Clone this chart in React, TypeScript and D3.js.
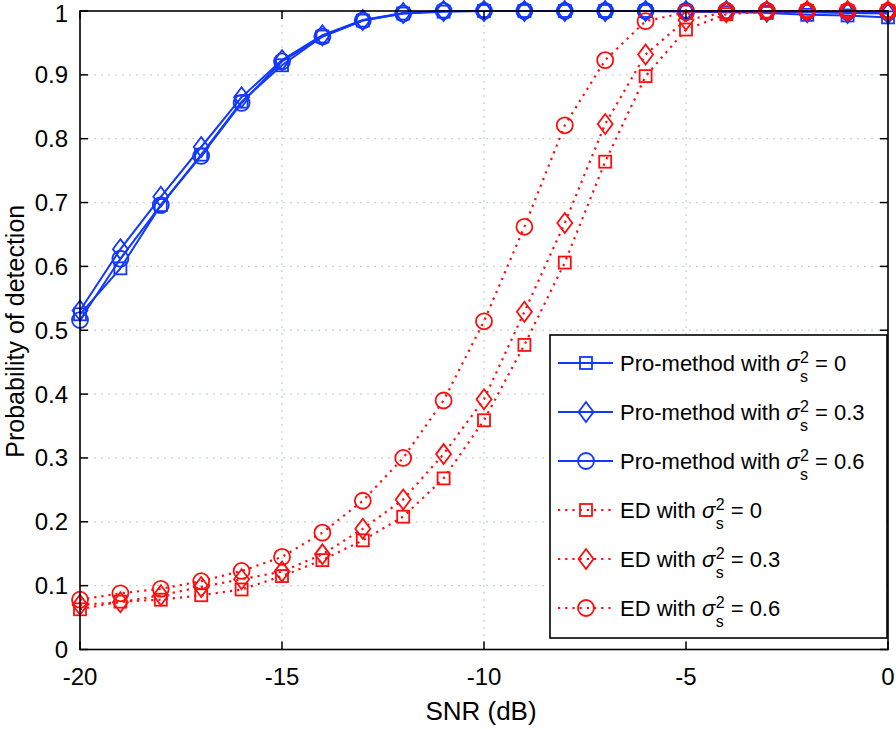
import React from "react";
import * as d3 from "d3";

const snr = [-20, -19, -18, -17, -16, -15, -14, -13, -12, -11, -10, -9, -8, -7, -6, -5, -4, -3, -2, -1, 0];

const proSq = [0.525, 0.597, 0.696, 0.775, 0.858, 0.915, 0.960, 0.985, 0.996, 0.999, 1.0, 1.0, 1.0, 1.0, 1.0, 0.999, 0.998, 0.997, 0.994, 0.993, 0.990];
const proDi = [0.531, 0.627, 0.709, 0.787, 0.865, 0.923, 0.962, 0.986, 0.997, 1.0, 1.0, 1.0, 1.0, 1.0, 1.0, 1.0, 1.0, 0.999, 0.998, 0.997, 0.996];
const proCi = [0.516, 0.612, 0.696, 0.773, 0.856, 0.921, 0.960, 0.985, 0.996, 1.0, 1.0, 1.0, 1.0, 1.0, 1.0, 1.0, 1.0, 1.0, 0.999, 0.999, 0.998];

const edSq = [0.063, 0.075, 0.078, 0.085, 0.094, 0.115, 0.140, 0.171, 0.208, 0.268, 0.359, 0.477, 0.606, 0.764, 0.898, 0.971, 0.995, 0.999, 1.0, 1.0, 1.0];
const edDi = [0.070, 0.074, 0.085, 0.098, 0.110, 0.122, 0.149, 0.189, 0.235, 0.306, 0.392, 0.529, 0.668, 0.823, 0.932, 0.986, 0.998, 1.0, 1.0, 1.0, 1.0];
const edCi = [0.078, 0.088, 0.095, 0.107, 0.123, 0.145, 0.183, 0.233, 0.300, 0.390, 0.514, 0.662, 0.821, 0.923, 0.984, 0.998, 1.0, 1.0, 1.0, 1.0, 1.0];

const xTicks = [-20, -15, -10, -5, 0];
const yTicks = [0, 0.1, 0.2, 0.3, 0.4, 0.5, 0.6, 0.7, 0.8, 0.9, 1];

const legendPrefixes = ["Pro-method with ", "Pro-method with ", "Pro-method with ", "ED with ", "ED with ", "ED with "];
const legendValues = ["0", "0.3", "0.6", "0", "0.3", "0.6"];

const BLUE = "#1238ff";
const RED = "#ff0d0d";
const FONT = "'Liberation Sans', Arial, Helvetica, sans-serif";

type Shape = "square" | "diamond" | "circle";

const series: { vals: number[]; shape: Shape; color: string; dotted: boolean }[] = [
  { vals: proSq, shape: "square", color: BLUE, dotted: false },
  { vals: proDi, shape: "diamond", color: BLUE, dotted: false },
  { vals: proCi, shape: "circle", color: BLUE, dotted: false },
  { vals: edSq, shape: "square", color: RED, dotted: true },
  { vals: edDi, shape: "diamond", color: RED, dotted: true },
  { vals: edCi, shape: "circle", color: RED, dotted: true },
];

function Marker({ shape, x, y, color }: { shape: Shape; x: number; y: number; color: string }) {
  const sw = 1.8;
  if (shape === "square") {
    return <rect x={x - 6} y={y - 6} width={12} height={12} fill="none" stroke={color} strokeWidth={sw} />;
  }
  if (shape === "diamond") {
    const w = 7.5, h = 10;
    return (
      <polygon
        points={`${x},${y - h} ${x + w},${y} ${x},${y + h} ${x - w},${y}`}
        fill="none"
        stroke={color}
        strokeWidth={sw}
      />
    );
  }
  return <circle cx={x} cy={y} r={8} fill="none" stroke={color} strokeWidth={sw} />;
}

let ctx: CanvasRenderingContext2D | null = null;
function measure(text: string, font: string): number {
  if (!ctx) {
    const c = document.createElement("canvas");
    ctx = c.getContext("2d");
  }
  if (!ctx) return text.length * 10;
  ctx.font = font;
  return ctx.measureText(text).width;
}

export default function App() {
  const W = 896, H = 729;
  const left = 80, right = 888, top = 11, bottom = 649.5;
  const x = d3.scaleLinear().domain([-20, 0]).range([left, right]);
  const y = d3.scaleLinear().domain([0, 1]).range([bottom, top]);

  const lineGen = (vals: number[]) =>
    d3.line<number>().x((_, i) => x(snr[i])).y((d) => y(d))(vals) || "";

  const tickLen = 8;
  const legX = 550, legY = 335, legW = 337, legH = 303;
  const rowY = (i: number) => 363 + i * 49;
  const legFont = 22;

  return (
    <svg width={W} height={H} style={{ position: "absolute", left: 0, top: 0, background: "#fff" }} fontFamily={FONT}>
      <rect x={0} y={0} width={W} height={H} fill="#fff" />
      {/* grid */}
      {xTicks.slice(1, -1).map((t) => (
        <line key={"gx" + t} x1={x(t)} x2={x(t)} y1={top} y2={bottom} stroke="#c9d6d2" strokeWidth={1.3} strokeDasharray="2 5" />
      ))}
      {yTicks.slice(1, -1).map((t) => (
        <line key={"gy" + t} x1={left} x2={right} y1={y(t)} y2={y(t)} stroke="#c9d6d2" strokeWidth={1.3} strokeDasharray="2 5" />
      ))}
      {/* series */}
      {series.map((s, si) => (
        <g key={"s" + si}>
          <path
            d={lineGen(s.vals)}
            fill="none"
            stroke={s.color}
            strokeWidth={s.dotted ? 2.2 : 2}
            strokeDasharray={s.dotted ? "2.2 5" : undefined}
          />
          {s.vals.map((v, i) => (
            <Marker key={i} shape={s.shape} x={x(snr[i])} y={y(v)} color={s.color} />
          ))}
        </g>
      ))}
      {/* axes box */}
      <rect x={left} y={top} width={right - left} height={bottom - top} fill="none" stroke="#000" strokeWidth={1.6} />
      {xTicks.map((t) => (
        <g key={"xt" + t}>
          <line x1={x(t)} x2={x(t)} y1={bottom} y2={bottom - tickLen} stroke="#000" strokeWidth={1.5} />
          <line x1={x(t)} x2={x(t)} y1={top} y2={top + tickLen} stroke="#000" strokeWidth={1.5} />
          <text x={x(t)} y={685} textAnchor="middle" fontSize={24} fill="#000">{t}</text>
        </g>
      ))}
      {yTicks.map((t) => (
        <g key={"yt" + t}>
          <line x1={left} x2={left + tickLen} y1={y(t)} y2={y(t)} stroke="#000" strokeWidth={1.5} />
          <line x1={right} x2={right - tickLen} y1={y(t)} y2={y(t)} stroke="#000" strokeWidth={1.5} />
          <text x={68} y={t === 1 ? 22 : y(t) + 8.5} textAnchor="end" fontSize={24} fill="#000">{d3.format("~g")(t)}</text>
        </g>
      ))}
      <text x={481} y={720} textAnchor="middle" fontSize={26} fill="#000">SNR (dB)</text>
      <text transform={`translate(24,${(top + bottom) / 2 + 1}) rotate(-90)`} textAnchor="middle" fontSize={25} fill="#000">
        Probability of detection
      </text>
      {/* legend */}
      <rect x={legX} y={legY} width={legW} height={legH} fill="#fff" stroke="#000" strokeWidth={1.6} />
      {series.map((s, i) => {
        const cy = rowY(i);
        const tx = 620;
        const pre = legendPrefixes[i];
        const wPre = measure(pre, `${legFont}px ${FONT}`);
        const sx = tx + wPre;
        const wSig = measure("σ", `italic ${legFont}px ${FONT}`);
        const supX = sx + wSig + 0.5;
        const wSup = Math.max(measure("2", `16px ${FONT}`), measure("s", `16px ${FONT}`));
        const restX = supX + wSup;
        return (
          <g key={"lg" + i}>
            <line
              x1={558}
              x2={613}
              y1={cy}
              y2={cy}
              stroke={s.color}
              strokeWidth={s.dotted ? 2.2 : 2}
              strokeDasharray={s.dotted ? "2.2 5" : undefined}
            />
            <Marker shape={s.shape} x={586} y={cy} color={s.color} />
            <text x={tx} y={cy + 8} fontSize={legFont} fill="#000" style={{ whiteSpace: "pre" }}>{pre}</text>
            <text x={sx} y={cy + 8} fontSize={legFont} fontStyle="italic" fill="#000">σ</text>
            <text x={supX} y={cy + 0} fontSize={16} fill="#000">2</text>
            <text x={supX} y={cy + 19} fontSize={16} fill="#000">s</text>
            <text x={restX} y={cy + 8} fontSize={legFont} fill="#000" style={{ whiteSpace: "pre" }}>{" = " + legendValues[i]}</text>
          </g>
        );
      })}
    </svg>
  );
}
